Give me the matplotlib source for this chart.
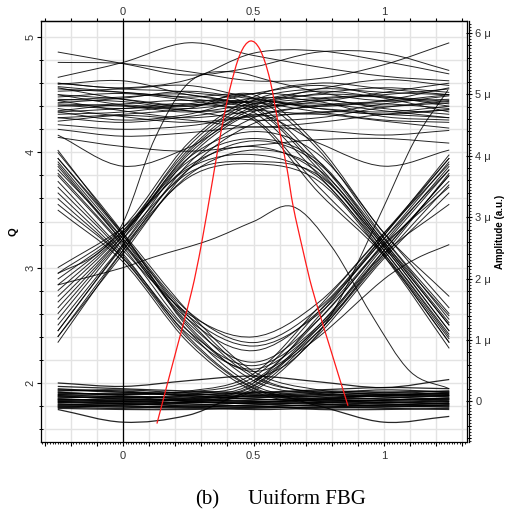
import numpy as np
import matplotlib
matplotlib.use("Agg")
import matplotlib.pyplot as plt
from matplotlib.path import Path
from matplotlib.patches import PathPatch
from matplotlib.ticker import FixedLocator, FixedFormatter

# ---------------- data ----------------
# sample times (bit periods) for regular eye traces
X_SAMPLES = [-0.25, 0.0, 0.25, 0.5, 0.75, 1.0, 1.25]

# Q values of traces that stay high (111)
HIGH_TRACES = [
    [4.87, 4.77, 4.67, 4.74, 4.87, 4.86, 4.71],
    [4.65, 4.78, 4.95, 4.84, 4.74, 4.66, 4.62],
    [4.78, 4.77, 4.70, 4.62, 4.64, 4.76, 4.95],
    [4.60, 4.56, 4.63, 4.86, 4.88, 4.79, 4.68],
    [4.59, 4.62, 4.50, 4.44, 4.55, 4.63, 4.58],
    [4.56, 4.46, 4.40, 4.51, 4.58, 4.49, 4.44],
    [4.53, 4.55, 4.58, 4.47, 4.40, 4.45, 4.56],
    [4.50, 4.41, 4.35, 4.42, 4.51, 4.56, 4.52],
    [4.48, 4.51, 4.45, 4.37, 4.34, 4.42, 4.49],
    [4.45, 4.36, 4.30, 4.36, 4.46, 4.48, 4.40],
    [4.43, 4.47, 4.53, 4.46, 4.38, 4.33, 4.37],
    [4.41, 4.38, 4.42, 4.51, 4.47, 4.38, 4.33],
    [4.38, 4.31, 4.26, 4.32, 4.41, 4.44, 4.46],
    [4.36, 4.41, 4.36, 4.28, 4.30, 4.39, 4.43],
    [4.33, 4.35, 4.41, 4.43, 4.35, 4.28, 4.26],
    [4.30, 4.26, 4.31, 4.39, 4.42, 4.36, 4.30],
    [4.27, 4.32, 4.28, 4.22, 4.26, 4.33, 4.37],
    [4.24, 4.20, 4.23, 4.31, 4.33, 4.27, 4.21],
    [4.20, 4.14, 4.17, 4.22, 4.19, 4.15, 4.19],
    [4.13, 4.05, 4.01, 4.06, 4.11, 4.12, 4.08],
    [4.15, 3.88, 4.04, 4.33, 4.08, 3.88, 4.02],
    [4.57, 4.52, 4.47, 4.40, 4.44, 4.52, 4.60],
    [4.46, 4.44, 4.38, 4.45, 4.53, 4.47, 4.35],
    [4.35, 4.28, 4.33, 4.47, 4.44, 4.31, 4.28],
]

# Q values of traces that stay low (000)
LOW_TRACES = [
    [1.97, 1.95, 1.93, 1.92, 1.94, 1.96, 1.95],
    [1.95, 1.92, 1.90, 1.91, 1.93, 1.92, 1.90],
    [1.93, 1.94, 1.91, 1.88, 1.89, 1.92, 1.93],
    [1.92, 1.89, 1.87, 1.89, 1.92, 1.90, 1.88],
    [1.90, 1.91, 1.89, 1.86, 1.86, 1.89, 1.91],
    [1.89, 1.86, 1.85, 1.87, 1.90, 1.88, 1.86],
    [1.87, 1.88, 1.86, 1.84, 1.85, 1.87, 1.89],
    [1.86, 1.84, 1.83, 1.85, 1.87, 1.86, 1.84],
    [1.85, 1.86, 1.84, 1.82, 1.83, 1.85, 1.86],
    [1.84, 1.82, 1.81, 1.83, 1.85, 1.84, 1.82],
    [1.83, 1.84, 1.82, 1.80, 1.81, 1.83, 1.84],
    [1.82, 1.80, 1.79, 1.81, 1.83, 1.82, 1.80],
    [1.81, 1.82, 1.80, 1.79, 1.79, 1.81, 1.82],
    [1.80, 1.79, 1.78, 1.79, 1.81, 1.80, 1.79],
    [1.79, 1.80, 1.79, 1.77, 1.78, 1.79, 1.80],
    [1.78, 1.77, 1.77, 1.78, 1.79, 1.78, 1.77],
    [1.91, 1.90, 1.92, 1.90, 1.88, 1.89, 1.92],
    [1.88, 1.87, 1.88, 1.86, 1.84, 1.85, 1.87],
    [1.84, 1.83, 1.85, 1.84, 1.82, 1.81, 1.83],
    [1.94, 1.93, 1.89, 1.89, 1.91, 1.94, 1.92],
    [1.86, 1.85, 1.86, 1.88, 1.86, 1.83, 1.85],
    [1.81, 1.81, 1.83, 1.82, 1.80, 1.80, 1.81],
    [1.89, 1.88, 1.84, 1.83, 1.86, 1.90, 1.89],
    [1.79, 1.78, 1.80, 1.80, 1.77, 1.77, 1.78],
    [2.00, 1.97, 2.02, 2.06, 2.01, 1.96, 2.03],
    [1.77, 1.66, 1.72, 1.92, 1.80, 1.66, 1.71],
]

# falling at 0, then low (100)
FALL_LEFT = [
    [4.02, 3.28, 2.55, 2.05, 1.92, 1.90, 1.91],
    [3.90, 3.22, 2.50, 2.02, 1.90, 1.88, 1.89],
    [3.80, 3.18, 2.45, 1.98, 1.88, 1.86, 1.87],
    [3.70, 3.12, 2.40, 1.96, 1.86, 1.85, 1.86],
    [3.95, 3.30, 2.62, 2.10, 1.94, 1.91, 1.93],
    [3.60, 3.08, 2.38, 1.95, 1.84, 1.83, 1.82],
    [3.85, 3.25, 2.58, 2.07, 1.91, 1.89, 1.90],
    [3.50, 3.05, 2.35, 1.93, 1.82, 1.80, 1.81],
]

# rising at 0, then high (011)
RISE_LEFT = [
    [2.35, 3.15, 3.90, 4.30, 4.40, 4.42, 4.38],
    [2.45, 3.20, 3.95, 4.35, 4.45, 4.40, 4.45],
    [2.55, 3.25, 4.00, 4.40, 4.50, 4.48, 4.42],
    [2.65, 3.28, 4.05, 4.45, 4.55, 4.52, 4.50],
    [2.75, 3.30, 3.98, 4.38, 4.47, 4.50, 4.55],
    [2.85, 3.32, 4.02, 4.42, 4.38, 4.35, 4.40],
    [2.95, 3.35, 4.08, 4.48, 4.60, 4.55, 4.50],
    [2.40, 3.12, 3.85, 4.25, 4.35, 4.33, 4.30],
]

# high, then falling at 1 (110)
FALL_RIGHT = [
    [4.40, 4.42, 4.45, 4.38, 3.85, 3.18, 2.45],
    [4.50, 4.46, 4.40, 4.42, 3.92, 3.22, 2.52],
    [4.35, 4.38, 4.42, 4.30, 3.70, 3.12, 2.38],
    [4.55, 4.52, 4.48, 4.47, 4.02, 3.26, 2.60],
    [4.45, 4.48, 4.50, 4.35, 3.80, 3.15, 2.42],
    [4.30, 4.33, 4.38, 4.50, 4.05, 3.30, 2.75],
    [4.60, 4.55, 4.52, 4.40, 3.88, 3.20, 2.50],
    [4.42, 4.40, 4.36, 4.28, 3.65, 3.10, 2.35],
]

# low, then rising at 1 (001)
RISE_RIGHT = [
    [1.90, 1.88, 1.90, 2.02, 2.55, 3.20, 3.85],
    [1.86, 1.85, 1.87, 1.98, 2.50, 3.15, 3.80],
    [1.92, 1.90, 1.92, 2.05, 2.62, 3.25, 3.92],
    [1.83, 1.82, 1.84, 1.95, 2.45, 3.10, 3.72],
    [1.88, 1.87, 1.89, 2.00, 2.58, 3.28, 3.98],
    [1.80, 1.81, 1.83, 1.93, 2.42, 3.08, 3.65],
    [1.94, 1.92, 1.93, 2.08, 2.66, 3.30, 3.95],
    [1.85, 1.84, 1.86, 1.97, 2.48, 3.12, 3.55],
]

# falling at 0, rising at 1 (101)
DIP_TRACES = [
    [3.92, 3.25, 2.52, 2.18, 2.55, 3.22, 3.88],
    [3.82, 3.20, 2.55, 2.28, 2.62, 3.25, 3.85],
    [3.75, 3.15, 2.60, 2.40, 2.70, 3.30, 3.90],
    [4.00, 3.30, 2.48, 2.10, 2.45, 3.15, 3.80],
    [3.65, 3.10, 2.45, 2.15, 2.50, 3.18, 3.75],
    [3.88, 3.22, 2.58, 2.32, 2.60, 3.20, 3.70],
    [3.55, 3.08, 2.42, 2.12, 2.48, 3.12, 3.82],
    [3.95, 3.28, 2.62, 2.35, 2.65, 3.28, 3.95],
]

# rising at 0, falling at 1 (010)
BUMP_TRACES = [
    [2.40, 3.15, 3.80, 4.02, 3.85, 3.20, 2.50],
    [2.50, 3.20, 3.85, 4.10, 3.90, 3.25, 2.55],
    [2.60, 3.25, 3.82, 3.92, 3.80, 3.18, 2.45],
    [2.70, 3.28, 3.95, 4.18, 3.98, 3.30, 2.65],
    [2.80, 3.30, 3.88, 4.05, 3.82, 3.15, 2.40],
    [2.90, 3.32, 3.92, 4.12, 3.92, 3.22, 2.58],
    [3.00, 3.35, 3.86, 3.98, 3.78, 3.12, 2.35],
    [2.45, 3.18, 3.78, 3.90, 3.75, 3.10, 2.30],
]

# irregular traces with their own sample times
ODD_X = [
    [-0.25, -0.1, 0.0, 0.12, 0.25, 0.4, 0.6, 0.8, 1.0, 1.25],
    [0.5, 0.65, 0.8, 0.977, 1.119, 1.245],
    [-0.25, 0.0, 0.115, 0.333, 0.5, 0.65, 0.8, 0.95, 1.1, 1.25],
    [0.5, 0.75, 1.0, 1.125, 1.25],
]
ODD_Q = [
    [2.95, 3.12, 3.39, 4.11, 4.60, 4.70, 4.60, 4.50, 4.45, 4.50],
    [2.02, 2.20, 2.60, 3.42, 4.11, 4.54],
    [2.85, 3.00, 3.09, 3.24, 3.40, 3.53, 3.18, 2.60, 2.10, 1.95],
    [2.00, 2.40, 2.90, 3.08, 3.20],
]

# red pulse (right axis, amplitude in micro units)
PULSE_X = [0.130, 0.190, 0.264, 0.300, 0.345, 0.380, 0.410, 0.448, 0.487,
           0.525, 0.563, 0.600, 0.628, 0.651, 0.690, 0.724, 0.793, 0.862]
PULSE_AMP = [-0.36, 0.61, 1.81, 2.55, 3.65, 4.50, 5.10, 5.65, 5.87,
             5.73, 5.24, 4.40, 3.80, 3.20, 2.45, 1.85, 0.88, -0.07]

X_MAJOR_TICKS = [-0.3, -0.2, -0.1, 0.0, 0.1, 0.2, 0.3, 0.4, 0.5, 0.6, 0.7,
                 0.8, 0.9, 1.0, 1.1, 1.2, 1.3]
X_TICK_LABELS = ['', '', '', '0', '', '', '', '', '0.5', '', '', '', '', '1',
                 '', '', '']
Q_TICKS = [2, 3, 4, 5]
Q_TICK_LABELS = ['2', '3', '4', '5']
AMP_TICKS = [0, 1, 2, 3, 4, 5, 6]
AMP_TICK_LABELS = ['0', '1 μ', '2 μ', '3 μ', '4 μ', '5 μ', '6 μ']

# ---------------- drawing ----------------
def smooth_path(xs, ys):
    n = len(xs)
    m = []
    for i in range(n):
        if i == 0:
            m.append((ys[1] - ys[0]) / (xs[1] - xs[0]))
        elif i == n - 1:
            m.append((ys[-1] - ys[-2]) / (xs[-1] - xs[-2]))
        else:
            m.append((ys[i + 1] - ys[i - 1]) / (xs[i + 1] - xs[i - 1]))
    verts = [(xs[0], ys[0])]
    codes = [Path.MOVETO]
    for i in range(n - 1):
        h = xs[i + 1] - xs[i]
        verts += [(xs[i] + h / 3, ys[i] + m[i] * h / 3),
                  (xs[i + 1] - h / 3, ys[i + 1] - m[i + 1] * h / 3),
                  (xs[i + 1], ys[i + 1])]
        codes += [Path.CURVE4] * 3
    return Path(verts, codes)


plt.rcParams['font.family'] = ['Liberation Sans', 'DejaVu Sans']

W = 513
fig = plt.figure(figsize=(5.13, 5.13), dpi=100)
L, R, T, B = 41, 467, 21, 442
ax = fig.add_axes([L / W, (W - B) / W, (R - L) / W, (B - T) / W])
ax.set_xlim(-0.3142, 1.318)
ax.set_ylim(1.488, 5.139)

trace_kw = dict(fill=False, edgecolor='black', lw=0.7, alpha=0.85,
                capstyle='butt', zorder=3)
for q in LOW_TRACES:
    ax.add_patch(PathPatch(smooth_path(X_SAMPLES, q),
                           **dict(trace_kw, lw=0.9)))
for group in (HIGH_TRACES, FALL_LEFT, RISE_LEFT, FALL_RIGHT,
              RISE_RIGHT, DIP_TRACES, BUMP_TRACES):
    for q in group:
        ax.add_patch(PathPatch(smooth_path(X_SAMPLES, q), **trace_kw))
for xs, q in zip(ODD_X, ODD_Q):
    ax.add_patch(PathPatch(smooth_path(xs, q), **trace_kw))

# axes styling
TICK_COLOR = '#333333'
LABEL_SIZE = 8
ax.set_axisbelow(True)
ax.axvline(0, color='black', lw=0.9, zorder=2)
ax.xaxis.set_major_locator(FixedLocator(X_MAJOR_TICKS))
ax.xaxis.set_major_formatter(FixedFormatter(X_TICK_LABELS))
ax.xaxis.set_minor_locator(FixedLocator(np.arange(-0.31, 1.315, 0.01)))
ax.tick_params(axis='x', which='major', top=False, bottom=True,
               labeltop=False, labelbottom=True, direction='out', length=3,
               width=0.8, labelsize=LABEL_SIZE, pad=3.5,
               labelcolor=TICK_COLOR)
ax.tick_params(axis='x', which='minor', top=False, bottom=True,
               direction='out', length=1.4, width=0.6)

# top axis (same scale) with its own label spacing
top = ax.secondary_xaxis('top')
top.xaxis.set_major_locator(FixedLocator(X_MAJOR_TICKS))
top.xaxis.set_major_formatter(FixedFormatter(X_TICK_LABELS))
top.tick_params(axis='x', which='major', direction='out', length=2,
                width=0.8, labelsize=LABEL_SIZE, pad=1.2,
                labelcolor=TICK_COLOR)
top.spines['top'].set_linewidth(0.9)

ax.yaxis.set_major_locator(FixedLocator(Q_TICKS))
ax.yaxis.set_major_formatter(FixedFormatter(Q_TICK_LABELS))
ax.yaxis.set_minor_locator(FixedLocator(np.arange(1.6, 5.11, 0.2)))
ax.tick_params(axis='y', which='major', left=True, right=False,
               direction='out', length=2.7, width=0.8, labelsize=LABEL_SIZE,
               pad=1.3, labelcolor=TICK_COLOR)
ax.tick_params(axis='y', which='minor', left=True, right=False,
               direction='inout', length=3, width=0.7)
for lab in ax.get_yticklabels():
    lab.set_rotation(90)
    lab.set_va('center')
ax.xaxis.grid(True, which='major', color='#e3e3e3', lw=1.0)
ax.yaxis.grid(True, which='both', color='#e3e3e3', lw=1.0)
for s in ax.spines.values():
    s.set_linewidth(0.9)
    s.set_color('black')
ax.set_ylabel('Q', fontweight='bold', fontsize=8)
ax.yaxis.set_label_coords(-0.053, 0.5)

# right amplitude axis with red pulse
ax2 = ax.twinx()
ax2.set_ylim(-0.660, 6.197)
ax2.add_patch(PathPatch(smooth_path(PULSE_X, PULSE_AMP), fill=False,
                        edgecolor='#ff1a1a', lw=0.9, zorder=5))
ax2.yaxis.set_major_locator(FixedLocator(AMP_TICKS))
ax2.yaxis.set_major_formatter(FixedFormatter(AMP_TICK_LABELS))
ax2.yaxis.set_minor_locator(FixedLocator(np.arange(-0.6, 6.19, 0.2)))
ax2.tick_params(axis='y', which='major', right=True, direction='inout',
                length=5, width=0.8, labelsize=LABEL_SIZE, pad=2,
                labelcolor=TICK_COLOR)
ax2.tick_params(axis='y', which='minor', right=True, direction='inout',
                length=3, width=0.7)
for lab in ax2.get_yticklabels():
    lab.set_rotation(90)
    lab.set_va('center')
ax2.spines['right'].set_position(('outward', 1.5))
for k in ('left', 'top', 'bottom'):
    ax2.spines[k].set_visible(False)
ax2.spines['right'].set_linewidth(0.9)
ax2.set_ylabel('Amplitude (a.u.)', fontweight='bold', fontsize=7)
ax2.yaxis.set_label_coords(1.066, 0.5)

# tiny dotted ticks on the amplitude axis
ax3 = ax.twinx()
ax3.set_ylim(-0.660, 6.197)
ax3.yaxis.set_major_locator(FixedLocator([]))
ax3.yaxis.set_minor_locator(FixedLocator(np.arange(-0.65, 6.19, 0.05)))
ax3.tick_params(axis='y', which='minor', right=True, direction='out',
                length=1.3, width=0.6)
ax3.spines['right'].set_position(('outward', 1.5))
for k in ('left', 'top', 'bottom', 'right'):
    ax3.spines[k].set_visible(False)
ax3.patch.set_visible(False)

# caption
fig.text(195 / W, (W - 504) / W, '(b)', family='Liberation Serif',
         fontsize=15, ha='left', va='baseline')
fig.text(248 / W, (W - 504) / W, 'Uuiform FBG', family='Liberation Serif',
         fontsize=15, ha='left', va='baseline')

fig.savefig('out.png', dpi=100)
